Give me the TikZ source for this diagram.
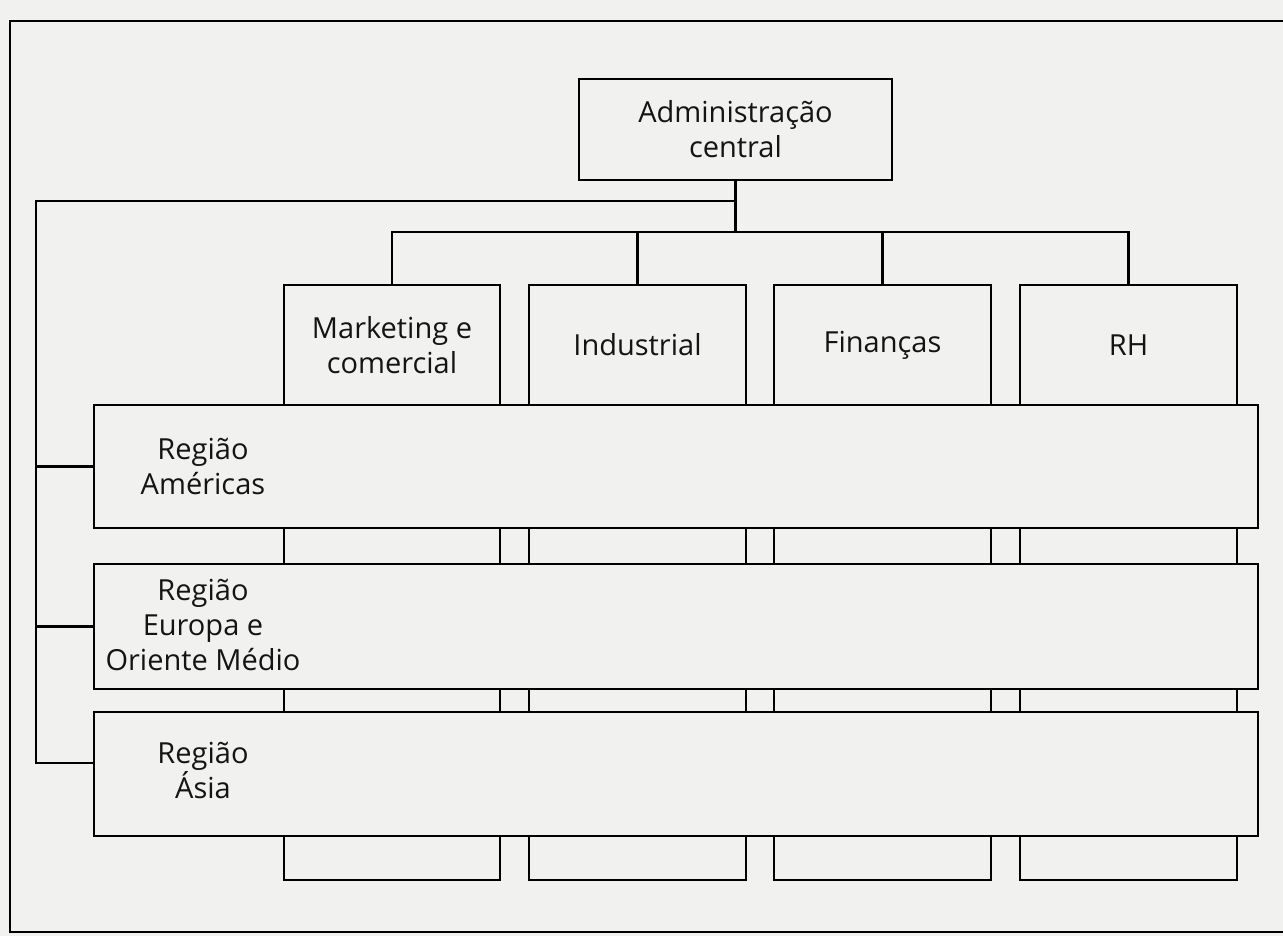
\documentclass[tikz,border=0pt]{standalone}
\usepackage{fontspec}
\setmainfont{Open Sans}
\definecolor{paper}{HTML}{F1F1EF}
\tikzset{
  box/.style={draw=black, line width=2.3pt, fill=paper, rectangle, inner sep=0pt},
  wire/.style={draw=black, line width=2.3pt},
  lbl/.style={font=\fontsize{29}{35}\selectfont, align=center, text=black!92, inner sep=0pt},
}
\begin{document}
\begin{tikzpicture}[x=1pt,y=-1pt]
\fill[paper] (0,0) rectangle (1283,936);
\useasboundingbox (0,0) rectangle (1283,936);
% outer frame
\coordinate (otr) at (1295,21);
\coordinate (otl) at (10,21);
\coordinate (obl) at (10,932);
\coordinate (obr) at (1295,932);
\draw[wire] (otr) -- (otl) -- (obl) -- (obr);
% central administration
\node[box, minimum width=313, minimum height=101] (admin) at (735.5,129.5) {};
\node[lbl] (admintxt) at (admin.center) {Administração\\central};
% function columns
\node[box, minimum width=216, minimum height=595] (mkt) at (392,582.5) {};
\node[box, minimum width=217, minimum height=595] (ind) at (637.5,582.5) {};
\node[box, minimum width=217, minimum height=595] (fin) at (882.5,582.5) {};
\node[box, minimum width=217, minimum height=595] (rh) at (1128.5,582.5) {};
\node[lbl] (mkttxt) at (392,345) {Marketing e\\comercial};
\node[lbl] (indtxt) at (637.5,345) {Industrial};
\node[lbl] (fintxt) at (882.5,345) {Finanças};
\node[lbl] (rhtxt) at (1128.5,345) {RH};
% tree connectors
\coordinate (bar) at (735.5,232);
\coordinate (innertop) at (36,201);
\draw[wire] (admin.south) -- (bar);
\draw[wire] (mkt.north) -- (mkt.north |- bar) -- (rh.north |- bar) -- (rh.north);
\draw[wire] (ind.north) -- (ind.north |- bar);
\draw[wire] (fin.north) -- (fin.north |- bar);
% regions
\node[box, minimum width=1164, minimum height=123] (am) at (676,466.5) {};
\node[box, minimum width=1164, minimum height=125] (eu) at (676,626.5) {};
\node[box, minimum width=1164, minimum height=124] (as) at (676,774) {};
\node[lbl] (amtxt) at (203,466.5) {Região\\Américas};
\node[lbl] (eutxt) at (203,625) {Região\\Europa e\\Oriente Médio};
\node[lbl] (astxt) at (203,770) {Região\\Ásia};
\coordinate (asjoin) at (as.west |- 0,763);
\draw[wire] (admin.south |- innertop) -- (innertop) -- (innertop |- asjoin) -- (asjoin);
\draw[wire] (innertop |- am.west) -- (am.west);
\draw[wire] (innertop |- eu.west) -- (eu.west);
\end{tikzpicture}
\end{document}
